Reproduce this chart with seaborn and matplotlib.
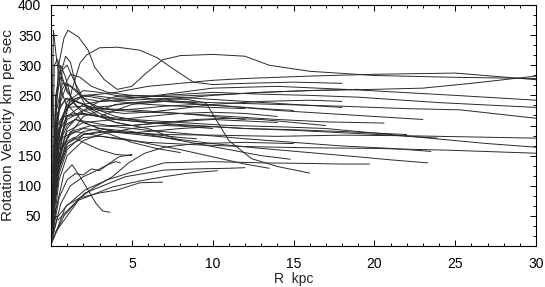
import matplotlib
matplotlib.use("Agg")
import matplotlib.pyplot as plt
import pandas as pd
import seaborn as sns
from matplotlib.ticker import MultipleLocator

# rotation curves: radius (kpc) and velocity (km/s)
c01_r = [0.1, 0.45, 0.8, 1.05, 1.7, 2.3, 2.7, 3.3, 4.1, 5.0, 5.8, 6.9, 8, 10, 12, 13.5, 16, 20, 25, 30]
c01_v = [80, 297, 345, 358, 347, 325, 297, 276, 260, 265, 285, 309, 316, 318, 315, 300, 290, 283, 280, 278]
c02_r = [0.2, 0.8, 1.3, 1.8, 2.2, 3.0, 4.1, 5.5, 6.6, 7.4, 8.8, 10, 12, 15, 18]
c02_v = [90, 200, 260, 304, 317, 329, 330, 325, 312, 297, 272, 268, 270, 272, 270]
c03_r = [0.0, 0.07, 0.15, 0.3, 0.6, 1.0, 1.5, 2, 3, 4, 6, 8, 10, 12]
c03_v = [0, 200, 358, 320, 260, 230, 240, 250, 245, 240, 235, 232, 230, 228]
c04_r = [0.1, 0.4, 0.7, 0.9, 1.2, 1.6, 2.2, 3, 4, 5, 7, 10, 14]
c04_v = [50, 200, 295, 315, 305, 260, 230, 215, 205, 200, 205, 210, 205]
c05_r = [0.05, 0.3, 0.6, 0.9, 1.3, 2, 3, 4, 5, 7, 9]
c05_v = [50, 250, 300, 280, 240, 220, 215, 225, 235, 240, 238]
c06_r = [0.2, 0.6, 1.2, 2, 3, 4, 5, 6, 8, 10, 12, 16, 20, 25, 30]
c06_v = [100, 200, 240, 250, 252, 255, 260, 265, 270, 275, 278, 282, 285, 287, 276]
c07_r = [0.1, 0.5, 1, 2, 4, 6, 8, 10, 13, 16, 20, 23, 26, 30]
c07_v = [40, 130, 180, 215, 235, 240, 245, 250, 255, 258, 260, 262, 270, 282]
c08_r = [0.1, 0.4, 0.8, 1.5, 2.5, 4, 6, 8, 10, 14, 19, 25, 30]
c08_v = [60, 170, 220, 245, 250, 245, 248, 255, 262, 265, 259, 250, 242]
c09_r = [0.1, 0.3, 0.7, 1.2, 2, 3, 5, 7, 10, 13, 16, 19, 24, 30]
c09_v = [80, 220, 270, 265, 245, 240, 245, 250, 255, 252, 250, 247, 238, 230]
c10_r = [0.1, 0.4, 1, 2, 3, 4, 6, 8, 10, 14, 18, 22, 25.3, 30]
c10_v = [50, 180, 240, 258, 255, 250, 245, 240, 238, 235, 232, 228, 226, 212]
c11_r = [0.1, 0.5, 1, 2, 3, 5, 7, 10, 14, 18, 22, 26, 30]
c11_v = [40, 120, 160, 185, 190, 188, 185, 184, 182, 184, 183, 181, 179]
c12_r = [0.1, 0.3, 0.8, 1.5, 3, 5, 8, 11, 14, 17, 19, 23, 27, 30]
c12_v = [80, 180, 215, 220, 215, 210, 205, 200, 198, 195, 190, 180, 170, 164]
c13_r = [0.05, 0.3, 0.7, 1.5, 2.5, 4, 6, 9, 12, 16, 20, 24.6, 30]
c13_v = [30, 140, 180, 190, 185, 178, 172, 168, 165, 163, 162, 159, 154]
c14_r = [0.1, 0.5, 1, 2, 3, 5, 8, 11, 14, 17, 20.6]
c14_v = [60, 170, 210, 225, 228, 226, 220, 215, 210, 206, 204]
c15_r = [0.1, 0.4, 1, 2, 4, 6, 9, 12, 15, 18, 21, 23.9]
c15_v = [40, 140, 190, 205, 210, 205, 200, 195, 192, 188, 184, 179]
c16_r = [0.1, 0.5, 1.2, 2.5, 4, 6, 9, 12, 15, 18, 21, 23.5]
c16_v = [50, 150, 190, 200, 198, 192, 185, 178, 172, 166, 162, 157]
c17_r = [0.1, 0.4, 1, 2, 3.5, 5, 7, 10, 13, 16, 19, 21, 23.3]
c17_v = [30, 130, 170, 185, 190, 186, 180, 170, 162, 155, 148, 143, 138]
c18_r = [0.05, 0.9, 2.1, 3.5, 4.8, 7, 10, 13, 16, 18, 19.7]
c18_v = [5, 65, 93, 110, 121, 138, 140, 138, 137, 136, 136]
c19_r = [0.1, 0.5, 1, 2, 3, 5, 7, 8.5, 9.6, 11, 12.4, 14, 16]
c19_v = [60, 170, 215, 235, 240, 242, 245, 243, 237, 175, 145, 132, 121]
c20_r = [0.1, 0.5, 1, 2, 3, 5, 7, 9, 11, 13, 14.8]
c20_v = [40, 130, 170, 190, 195, 190, 180, 170, 160, 150, 144]
c21_r = [0.1, 0.4, 1, 2, 3, 4.5, 6, 8, 10, 12, 13.5]
c21_v = [30, 120, 165, 180, 182, 178, 170, 160, 148, 136, 129]
c22_r = [0.25, 1.7, 3.8, 5.5, 7, 8.5, 10.3]
c22_v = [22, 76, 98, 108, 115, 121, 125]
c23_r = [0.1, 0.3, 0.8, 1.3, 1.8, 2.4, 2.8, 3.2, 3.65]
c23_v = [20, 60, 120, 135, 115, 88, 70, 58, 56]
c24_r = [0.05, 0.4, 1, 1.8, 3, 4.1, 5.5, 6.9]
c24_v = [10, 48, 68, 80, 88, 93, 105, 106]
c25_r = [0.1, 0.5, 1, 1.5, 2, 2.5, 3, 3.5, 4, 4.3]
c25_v = [20, 80, 110, 120, 118, 128, 125, 135, 140, 138]
c26_r = [0.1, 0.6, 1.2, 2, 2.8, 3.5, 4.2, 5]
c26_v = [15, 70, 100, 115, 125, 135, 148, 152]
c27_r = [0.43, 2.1, 4.6, 7, 9, 11, 12]
c27_v = [43, 88, 115, 126, 128, 129, 130]
c28_r = [0.1, 0.8, 1.8, 2.7, 3.8, 4.8, 5.8, 7, 9, 12, 15]
c28_v = [10, 50, 80, 98, 115, 138, 154, 164, 170, 172, 170]
c29_r = [0.1, 0.3, 0.6, 1, 1.5, 2, 3, 4, 5, 6, 8, 10, 12, 14]
c29_v = [100, 250, 280, 260, 235, 225, 215, 210, 212, 215, 220, 222, 220, 215]
c30_r = [0.1, 0.4, 0.8, 1.5, 2.5, 3.5, 5, 7, 9, 11, 13, 15, 17]
c30_v = [40, 160, 200, 210, 205, 200, 200, 205, 210, 212, 210, 205, 200]
c31_r = [0.05, 0.2, 0.5, 1, 2, 3, 4, 6, 8, 10, 12, 15, 18, 22]
c31_v = [30, 180, 230, 245, 235, 220, 210, 205, 200, 198, 195, 193, 190, 185]
c32_r = [0.1, 0.5, 1, 1.5, 2, 3, 4, 5, 6, 8, 10]
c32_v = [60, 200, 235, 220, 205, 195, 190, 188, 190, 195, 198]
c33_r = [0.1, 0.3, 0.7, 1.2, 1.8, 2.5, 3.5, 5, 7, 9, 11, 13, 16, 19]
c33_v = [50, 200, 260, 285, 280, 265, 255, 250, 248, 250, 252, 255, 258, 260]
c34_r = [0.1, 0.2, 0.4, 0.7, 1, 1.5, 2.5, 4, 6, 8, 10, 12]
c34_v = [120, 300, 310, 280, 255, 240, 230, 225, 222, 220, 215, 210]
c35_r = [0.05, 0.2, 0.5, 1, 2, 3, 4, 5, 6, 7, 8]
c35_v = [30, 140, 190, 215, 220, 215, 205, 200, 195, 185, 175]
c36_r = [0.1, 0.5, 1, 2, 3, 4, 5, 6, 7, 8, 9, 10]
c36_v = [20, 110, 150, 175, 185, 190, 195, 198, 200, 199, 197, 195]
c37_r = [0.1, 0.4, 0.9, 1.6, 2.5, 3.5, 5, 7, 9, 11, 14, 17, 20, 23]
c37_v = [70, 220, 245, 240, 230, 232, 238, 240, 236, 232, 225, 220, 215, 210]
c38_r = [0.1, 0.3, 0.6, 1.0, 1.5, 2.2, 3, 4, 5.5, 7, 9, 11, 13, 15]
c38_v = [40, 180, 240, 270, 260, 240, 230, 225, 228, 232, 235, 232, 228, 225]
c39_r = [0.05, 0.3, 0.7, 1.2, 2, 3, 4, 5, 6.5, 8]
c39_v = [20, 110, 165, 185, 195, 192, 182, 172, 162, 155]
c40_r = [0.1, 0.4, 1, 2, 3, 4.5, 6, 8, 10, 13, 16, 18]
c40_v = [80, 200, 230, 232, 225, 220, 222, 228, 235, 240, 242, 240]
c41_r = [0.1, 0.5, 1, 2, 3, 4, 5, 7, 9, 12, 15, 18]
c41_v = [40, 150, 195, 225, 240, 248, 250, 248, 245, 240, 235, 230]
c42_r = [0.1, 0.3, 0.6, 1, 1.5, 2, 3, 4, 5, 6]
c42_v = [60, 230, 290, 300, 270, 245, 225, 215, 210, 205]
c43_r = [0.05, 0.2, 0.5, 1, 1.5, 2, 3, 4, 5, 6, 7, 8, 9]
c43_v = [20, 100, 170, 200, 210, 205, 195, 190, 188, 186, 183, 180, 178]
c44_r = [0.1, 0.4, 0.8, 1.4, 2, 3, 4, 5]
c44_v = [30, 130, 170, 180, 172, 160, 152, 150]

CURVES = [
    (c01_r, c01_v), (c02_r, c02_v), (c03_r, c03_v), (c04_r, c04_v), (c05_r, c05_v),
    (c06_r, c06_v), (c07_r, c07_v), (c08_r, c08_v), (c09_r, c09_v), (c10_r, c10_v),
    (c11_r, c11_v), (c12_r, c12_v), (c13_r, c13_v), (c14_r, c14_v), (c15_r, c15_v),
    (c16_r, c16_v), (c17_r, c17_v), (c18_r, c18_v), (c19_r, c19_v), (c20_r, c20_v),
    (c21_r, c21_v), (c22_r, c22_v), (c23_r, c23_v), (c24_r, c24_v), (c25_r, c25_v),
    (c26_r, c26_v), (c27_r, c27_v), (c28_r, c28_v), (c29_r, c29_v), (c30_r, c30_v),
    (c31_r, c31_v), (c32_r, c32_v), (c33_r, c33_v), (c34_r, c34_v), (c35_r, c35_v),
    (c36_r, c36_v), (c37_r, c37_v), (c38_r, c38_v), (c39_r, c39_v), (c40_r, c40_v),
    (c41_r, c41_v), (c42_r, c42_v), (c43_r, c43_v), (c44_r, c44_v),
]

X_TICKS = [5, 10, 15, 20, 25, 30]
Y_TICKS = [50, 100, 150, 200, 250, 300, 350, 400]


def main() -> int:
    rows = []
    for i, (rr, vv) in enumerate(CURVES):
        for r, v in zip(rr, vv):
            rows.append({"R": r, "V": v, "curve": i})
    df = pd.DataFrame(rows)

    sns.set_style("ticks")
    plt.rcParams["font.family"] = ["Liberation Sans", "DejaVu Sans"]

    fig = plt.figure(figsize=(5.45, 2.87), dpi=100)
    ax = fig.add_axes([51 / 545, 41 / 287, 485 / 545, 241 / 287])

    sns.lineplot(
        data=df, x="R", y="V", units="curve", estimator=None, sort=False,
        color="#2a2a2a", linewidth=0.7, ax=ax, legend=False,
    )

    ax.set_xlim(0, 30)
    ax.set_ylim(0, 400)
    ax.set_xticks(X_TICKS)
    ax.set_yticks(Y_TICKS)
    ax.xaxis.set_minor_locator(MultipleLocator(1))
    ax.yaxis.set_minor_locator(MultipleLocator(50 / 3))
    ax.tick_params(which="both", direction="in", top=True, right=True,
                   labelsize=10, colors="black", width=0.7)
    ax.tick_params(which="major", length=4)
    ax.tick_params(axis="x", which="major", pad=8)
    ax.tick_params(axis="y", which="major", pad=7)
    ax.tick_params(which="minor", length=2)
    for s in ax.spines.values():
        s.set_linewidth(0.8)
        s.set_color("black")

    ax.set_xlabel("R  kpc", fontsize=10)
    ax.set_ylabel("Rotation Velocity km per sec", fontsize=11)
    ax.xaxis.set_label_coords(0.5, -0.108)
    ax.yaxis.set_label_coords(-0.074, 0.5)

    fig.savefig("out.png", dpi=100)
    plt.close(fig)
    return 0


if __name__ == "__main__":
    raise SystemExit(main())
